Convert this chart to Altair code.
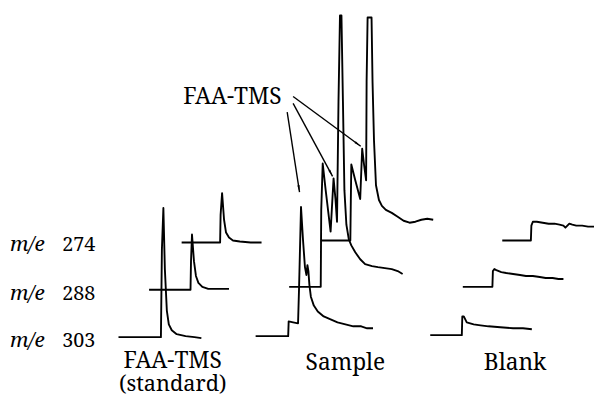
import math
import altair as alt
import pandas as pd

# ---- traces: retention position (t) and pen level (y, read downward on the sheet) ----
std_303_t = [120, 163, 164, 165.5, 167, 169, 171, 174, 179, 188, 197, 204]
std_303_y = [339, 339, 250, 208, 270, 312, 326, 332, 336, 338, 339, 340]
std_288_t = [151, 193, 193.5, 194.5, 196.5, 198.5, 201, 205, 211, 220, 232]
std_288_y = [291, 291, 262, 235, 262, 277, 284, 288, 290, 290, 290]
std_274_t = [184, 223, 223.5, 225, 227, 229, 232, 236, 243, 254, 265]
std_274_y = [243, 243, 215, 193, 220, 233, 238, 241, 242, 243, 243]

smp_303_t = [259, 292, 292.5, 297, 302, 303, 305, 307, 309, 310.5, 311.5, 312.5, 313.5, 315,
             318, 322, 328, 335, 342, 350, 358, 366, 372, 378]
smp_303_y = [338, 338, 323, 324, 325, 290, 207, 240, 268, 276, 266, 272, 286, 298,
             307, 313, 318, 321, 324, 326, 328, 328, 330, 330]
smp_288_t = [293, 325, 325.5, 327, 330, 335, 338, 340, 341.5, 343, 344.5, 346, 347.5, 349,
             351, 353.5, 356, 360, 365, 370, 377, 383, 390, 397, 403, 408]
smp_288_y = [288, 288, 210, 163, 190, 232, 178, 200, 222, 100, 13, 13, 100, 190,
             225, 240, 246, 253, 260, 265, 267, 268, 269, 270, 272, 275]
smp_274_t = [325, 355, 355.5, 356, 360, 365, 367, 369, 371, 371.5, 372.5, 376.5, 377.5, 379,
             381, 384, 387, 391, 397, 403, 409, 415, 421, 427, 433, 439]
smp_274_y = [241, 241, 200, 164, 180, 199, 148, 165, 180, 80, 15, 15, 80, 140,
             185, 200, 206, 210, 213, 217, 221, 223, 222, 220, 219, 220]

blk_303_t = [436, 468, 468.5, 470, 473, 480, 487, 495, 507, 520, 530, 539]
blk_303_y = [337, 337, 318, 318, 324, 326, 327, 328, 329, 330, 330, 331]
blk_288_t = [469, 499, 499.5, 501, 503, 508, 513, 520, 527, 533, 540, 547, 553, 560, 566, 571]
blk_288_y = [288, 288, 272, 270, 271, 273, 274, 275, 276, 277, 277, 278, 279, 279, 280, 280]
blk_274_t = [509, 538, 538.5, 540, 544, 550, 556, 562, 567, 571, 573, 575, 577, 580, 584, 590, 596, 602]
blk_274_y = [241, 241, 226, 222, 222, 223, 224, 224, 225, 226, 228, 226, 224, 225, 226, 226, 227, 227]

traces = {
    "std_303": (std_303_t, std_303_y), "std_288": (std_288_t, std_288_y), "std_274": (std_274_t, std_274_y),
    "smp_303": (smp_303_t, smp_303_y), "smp_288": (smp_288_t, smp_288_y), "smp_274": (smp_274_t, smp_274_y),
    "blk_303": (blk_303_t, blk_303_y), "blk_288": (blk_288_t, blk_288_y), "blk_274": (blk_274_t, blk_274_y),
}

# ---- annotation arrows (from label to peak) ----
arrow_t0 = [291, 297, 297]
arrow_y0 = [111, 102, 95]
arrow_t1 = [303.5, 337, 365.5]
arrow_y1 = [192, 176, 145.5]

# ---- texts ----
ion_labels = ["274", "288", "303"]
ion_y = [252, 301, 349]
caption_text = ["FAA-TMS", "(standard)", "Sample", "Blank", "FAA-TMS"]
caption_t = [175, 175, 350, 522, 235.5]
caption_y = [370, 394, 372, 372, 103]
caption_size = [23, 22, 23, 23, 23]

SERIF = "Noto Serif"

rows = []
for name, (ts, ys) in traces.items():
    for i, (t, y) in enumerate(zip(ts, ys)):
        rows.append({"trace": name, "t": t, "y": y, "i": i})
df = pd.DataFrame(rows)

adf = pd.DataFrame({"t": arrow_t0, "y": arrow_y0, "t2": arrow_t1, "y2": arrow_y1})
angles = [
    (math.degrees(math.atan2(t1 - t0, -(y1 - y0))) + 360) % 360
    for t0, y0, t1, y1 in zip(arrow_t0, arrow_y0, arrow_t1, arrow_y1)
]
hdf = pd.DataFrame({"t": arrow_t1, "y": arrow_y1, "ang": angles})

ldf = pd.DataFrame({"mz": ion_labels, "y": ion_y, "t_me": [10] * 3, "t_num": [63] * 3})
cdf = pd.DataFrame({"text": caption_text, "t": caption_t, "y": caption_y, "fs": caption_size})

xs = alt.Scale(domain=[8, 603])
ys = alt.Scale(domain=[8, 396], reverse=True)

lines = alt.Chart(df).mark_line(color="black", strokeWidth=1.9, strokeJoin="round").encode(
    x=alt.X("t:Q", scale=xs, axis=None),
    y=alt.Y("y:Q", scale=ys, axis=None),
    detail="trace:N",
    order="i:Q",
)

arrows = alt.Chart(adf).mark_rule(color="black", strokeWidth=1.4).encode(
    x=alt.X("t:Q", scale=xs, axis=None), y=alt.Y("y:Q", scale=ys, axis=None),
    x2="t2:Q", y2="y2:Q",
)

heads = alt.Chart(hdf).mark_point(
    shape="M0,0L0.32,2L-0.32,2Z", filled=True, color="black", size=50, opacity=1, strokeWidth=0
).encode(
    x=alt.X("t:Q", scale=xs, axis=None), y=alt.Y("y:Q", scale=ys, axis=None),
    angle=alt.Angle("ang:Q", scale=None),
)

me = alt.Chart(ldf).mark_text(
    text="m/e", font=SERIF, fontStyle="italic", fontSize=21,
    align="left", baseline="alphabetic", color="black"
).encode(x=alt.X("t_me:Q", scale=xs, axis=None), y=alt.Y("y:Q", scale=ys, axis=None))

num = alt.Chart(ldf).mark_text(
    font=SERIF, fontSize=20, align="left", baseline="alphabetic", color="black"
).encode(x=alt.X("t_num:Q", scale=xs, axis=None), y=alt.Y("y:Q", scale=ys, axis=None), text="mz:N")

caps = alt.Chart(cdf).mark_text(
    font=SERIF, align="center", baseline="alphabetic", color="black"
).encode(
    x=alt.X("t:Q", scale=xs, axis=None), y=alt.Y("y:Q", scale=ys, axis=None), text="text:N",
    size=alt.Size("fs:Q", scale=None, legend=None),
)

chart = alt.layer(lines, arrows, heads, me, num, caps).properties(
    width=595, height=388, padding=0, autosize=alt.AutoSizeParams(type="none"), background="white"
).configure_view(stroke=None)

chart.save("out.html", embed_options={"renderer": "svg", "actions": False})
